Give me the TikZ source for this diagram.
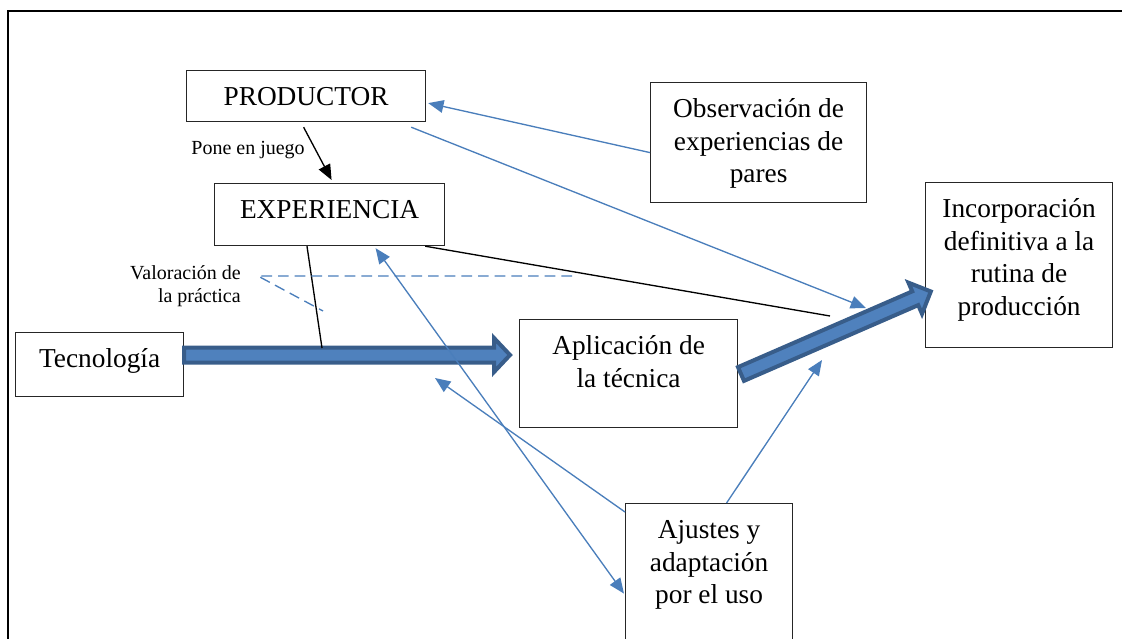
\documentclass[tikz,border=0pt]{standalone}
\usepackage{fontspec}
\setmainfont{Liberation Serif}
\usetikzlibrary{arrows.meta,calc}

\definecolor{lineblue}{HTML}{4A7EBB}
\definecolor{fillblue}{HTML}{4F81BD}
\definecolor{edgeblue}{HTML}{385D8A}

\newdimen\pxu \pxu=0.75pt
% box text: width, height (in px), lines
\newcommand{\boxtext}[3]{\begin{minipage}[t][#2\pxu][t]{#1\pxu}\centering\vspace*{9.2pt}\strut #3\end{minipage}}

\begin{document}
\begin{tikzpicture}[x=0.75pt,y=-0.75pt,
	box/.style={draw=black!85, line width=0.9pt, inner sep=0pt, anchor=north west,
		font=\fontsize{20.5}{24.4}\selectfont},
	note/.style={inner sep=0pt, font=\fontsize{15}{17.5}\selectfont},
	blueline/.style={draw=lineblue, line width=1pt},
	bluetip/.style={blueline, -{Triangle[length=11.5pt,width=9.5pt]}},
	blacktip/.style={line width=1pt, -{Triangle[length=11.5pt,width=9.5pt]}},
	bigarrow/.style={fill=fillblue, draw=edgeblue, line width=3pt, line join=miter}]
	\useasboundingbox (0,0) rectangle (1122,639);
	\draw[line width=1pt] (8,650) -- (8,11) -- (1130,11);

	\node[box] (prod) at (186,70) {\boxtext{239}{51}{PRODUCTOR}};
	\node[box] (exper) at (214,183) {\boxtext{230}{62}{EXPERIENCIA}};
	\node[box] (obs) at (650,82) {\boxtext{216}{120}{Observación de\\experiencias de\\pares}};
	\node[box] (inc) at (925,182) {\boxtext{187}{165}{Incorporación\\definitiva a la\\rutina de\\producción}};
	\node[box] (tec) at (15,332) {\boxtext{168}{64}{Tecnología}};
	\node[box] (apl) at (519,319) {\boxtext{218}{108}{Aplicación de\\la técnica}};
	\node[box] (ajs) at (625,503) {\boxtext{167}{180}{Ajustes y\\adaptación\\por el uso}};

	\node[note, anchor=base east] (pone) at (305,154) {Pone en juego};
	\node[note, anchor=north east, align=right] (valor) at (241,265) {Valoración de\\la práctica};

	% thick arrows
	\filldraw[bigarrow] (tec.east |- 0,347.5) -- (494,347.5) -- (494,338) -- (510,355)
		-- (494,372) -- (494,362.5) -- (tec.east |- 0,362.5) -- cycle;
	\filldraw[bigarrow, shift={(741,374)}, rotate=23.5] (0,-7.5) -- (190,-7.5) -- (190,-17)
		-- (207,0) -- (190,17) -- (190,7.5) -- (0,7.5) -- cycle;

	\coordinate (k1) at (322,348);
	\coordinate (k2) at (830,316);
	\coordinate (t1) at (866,308);
	\coordinate (a1) at (435,378);
	\coordinate (a2) at (822,360);
	\coordinate (v1) at (258,276);
	\coordinate (v2) at (572,276);
	\coordinate (v3) at (323,311);

	% black lines
	\draw[blacktip] ($(prod.south)+(-2.5,5)$) -- ($(exper.north)+(2,-3)$);
	\draw[line width=1pt] ($(exper.south west)+(93,0)$) -- (k1);
	\draw[line width=1pt] ($(exper.south east)+(-20,0)$) -- (k2);

	% blue connectors
	\draw[bluetip] ($(obs.west)+(0,10)$) -- ($(prod.east)+(2,7)$);
	\draw[bluetip] ($(prod.south east)+(-15,5)$) -- (t1);
	\draw[bluetip] ($(ajs.north west)+(0,9)$) -- (a1);
	\draw[bluetip, {Triangle[length=11.5pt,width=9.5pt]}-{Triangle[length=11.5pt,width=9.5pt]}]
		($(exper.south)+(46,2)$) -- ($(ajs.west)+(-1,0)$);
	\draw[bluetip] ($(ajs.north)+(17.5,0)$) -- (a2);

	% dashed
	\draw[blueline, dash pattern=on 8pt off 4.5pt] (v2) -- (v1) -- (v3);
\end{tikzpicture}
\end{document}
